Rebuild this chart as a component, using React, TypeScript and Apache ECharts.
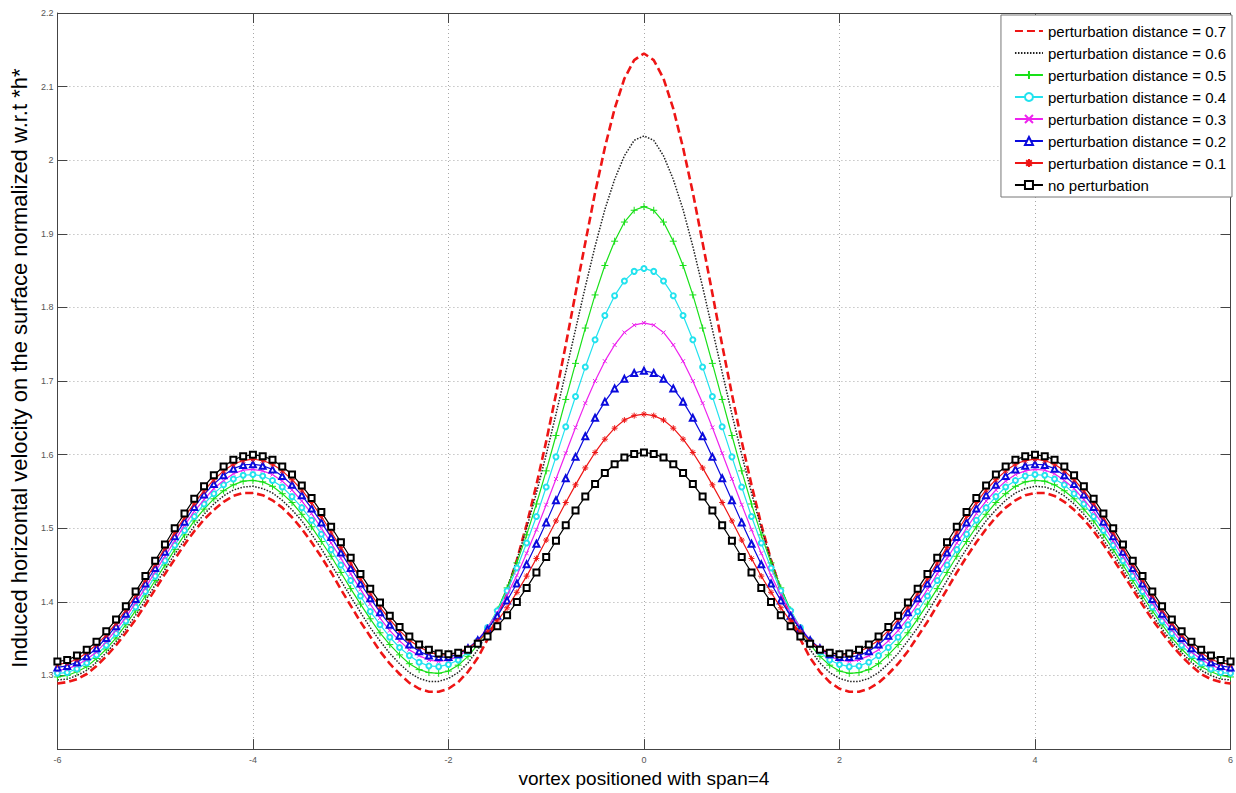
import React, { useEffect, useRef } from 'react';
import * as echarts from 'echarts';

// x positions of the samples (vortex positioned with span = 4)
const X_VALUES = [
  -6, -5.9, -5.8, -5.7, -5.6, -5.5, -5.4, -5.3, -5.2, -5.1,
  -5, -4.9, -4.8, -4.7, -4.6, -4.5, -4.4, -4.3, -4.2, -4.1,
  -4, -3.9, -3.8, -3.7, -3.6, -3.5, -3.4, -3.3, -3.2, -3.1,
  -3, -2.9, -2.8, -2.7, -2.6, -2.5, -2.4, -2.3, -2.2, -2.1,
  -2, -1.9, -1.8, -1.7, -1.6, -1.5, -1.4, -1.3, -1.2, -1.1,
  -1, -0.9, -0.8, -0.7, -0.6, -0.5, -0.4, -0.3, -0.2, -0.1,
  0, 0.1, 0.2, 0.3, 0.4, 0.5, 0.6, 0.7, 0.8, 0.9,
  1, 1.1, 1.2, 1.3, 1.4, 1.5, 1.6, 1.7, 1.8, 1.9,
  2, 2.1, 2.2, 2.3, 2.4, 2.5, 2.6, 2.7, 2.8, 2.9,
  3, 3.1, 3.2, 3.3, 3.4, 3.5, 3.6, 3.7, 3.8, 3.9,
  4, 4.1, 4.2, 4.3, 4.4, 4.5, 4.6, 4.7, 4.8, 4.9,
  5, 5.1, 5.2, 5.3, 5.4, 5.5, 5.6, 5.7, 5.8, 5.9,
  6,
];

const Y_P07 = [
  1.289, 1.291, 1.295, 1.302, 1.313, 1.326, 1.341, 1.358, 1.376, 1.396,
  1.417, 1.438, 1.458, 1.478, 1.496, 1.512, 1.525, 1.536, 1.544, 1.548,
  1.548, 1.545, 1.538, 1.528, 1.515, 1.499, 1.481, 1.461, 1.440, 1.417,
  1.395, 1.373, 1.353, 1.333, 1.316, 1.302, 1.290, 1.282, 1.278, 1.278,
  1.282, 1.291, 1.305, 1.324, 1.349, 1.379, 1.415, 1.457, 1.505, 1.559,
  1.618, 1.682, 1.749, 1.819, 1.888, 1.956, 2.017, 2.070, 2.111, 2.136,
  2.145, 2.136, 2.111, 2.070, 2.017, 1.956, 1.888, 1.819, 1.749, 1.682,
  1.618, 1.559, 1.505, 1.457, 1.415, 1.379, 1.349, 1.324, 1.305, 1.291,
  1.282, 1.278, 1.278, 1.282, 1.290, 1.302, 1.316, 1.333, 1.353, 1.373,
  1.395, 1.417, 1.440, 1.461, 1.481, 1.499, 1.515, 1.528, 1.538, 1.545,
  1.548, 1.548, 1.544, 1.536, 1.525, 1.512, 1.496, 1.478, 1.458, 1.438,
  1.417, 1.396, 1.376, 1.358, 1.341, 1.326, 1.313, 1.302, 1.295, 1.291,
  1.289,
];

const Y_P06 = [
  1.294, 1.295, 1.300, 1.307, 1.318, 1.331, 1.346, 1.363, 1.382, 1.402,
  1.423, 1.444, 1.465, 1.484, 1.503, 1.519, 1.533, 1.544, 1.552, 1.556,
  1.557, 1.554, 1.548, 1.538, 1.525, 1.510, 1.492, 1.472, 1.451, 1.429,
  1.407, 1.386, 1.365, 1.347, 1.330, 1.316, 1.304, 1.296, 1.292, 1.292,
  1.296, 1.304, 1.317, 1.335, 1.358, 1.386, 1.419, 1.457, 1.500, 1.548,
  1.600, 1.655, 1.712, 1.770, 1.828, 1.883, 1.933, 1.974, 2.006, 2.027,
  2.033, 2.027, 2.006, 1.974, 1.933, 1.883, 1.828, 1.770, 1.712, 1.655,
  1.600, 1.548, 1.500, 1.457, 1.419, 1.386, 1.358, 1.335, 1.317, 1.304,
  1.296, 1.292, 1.292, 1.296, 1.304, 1.316, 1.330, 1.347, 1.365, 1.386,
  1.407, 1.429, 1.451, 1.472, 1.492, 1.510, 1.525, 1.538, 1.548, 1.554,
  1.557, 1.556, 1.552, 1.544, 1.533, 1.519, 1.503, 1.484, 1.465, 1.444,
  1.423, 1.402, 1.382, 1.363, 1.346, 1.331, 1.318, 1.307, 1.300, 1.295,
  1.294,
];

const Y_P05 = [
  1.298, 1.300, 1.305, 1.312, 1.323, 1.336, 1.351, 1.369, 1.388, 1.408,
  1.429, 1.450, 1.471, 1.491, 1.510, 1.526, 1.540, 1.551, 1.559, 1.564,
  1.565, 1.563, 1.557, 1.547, 1.535, 1.519, 1.502, 1.482, 1.462, 1.440,
  1.418, 1.397, 1.377, 1.358, 1.342, 1.328, 1.316, 1.308, 1.304, 1.303,
  1.306, 1.314, 1.326, 1.342, 1.363, 1.389, 1.419, 1.453, 1.491, 1.533,
  1.578, 1.626, 1.675, 1.724, 1.772, 1.817, 1.857, 1.890, 1.916, 1.932,
  1.937, 1.932, 1.916, 1.890, 1.857, 1.817, 1.772, 1.724, 1.675, 1.626,
  1.578, 1.533, 1.491, 1.453, 1.419, 1.389, 1.363, 1.342, 1.326, 1.314,
  1.306, 1.303, 1.304, 1.308, 1.316, 1.328, 1.342, 1.358, 1.377, 1.397,
  1.418, 1.440, 1.462, 1.482, 1.502, 1.519, 1.535, 1.547, 1.557, 1.563,
  1.565, 1.564, 1.559, 1.551, 1.540, 1.526, 1.510, 1.491, 1.471, 1.450,
  1.429, 1.408, 1.388, 1.369, 1.351, 1.336, 1.323, 1.312, 1.305, 1.300,
  1.298,
];

const Y_P04 = [
  1.303, 1.304, 1.309, 1.317, 1.328, 1.341, 1.357, 1.374, 1.393, 1.414,
  1.435, 1.456, 1.477, 1.497, 1.516, 1.533, 1.547, 1.559, 1.567, 1.572,
  1.573, 1.571, 1.565, 1.556, 1.543, 1.528, 1.511, 1.492, 1.471, 1.450,
  1.429, 1.408, 1.387, 1.369, 1.352, 1.338, 1.327, 1.318, 1.313, 1.312,
  1.315, 1.321, 1.332, 1.347, 1.365, 1.388, 1.415, 1.446, 1.480, 1.516,
  1.556, 1.597, 1.638, 1.679, 1.719, 1.756, 1.789, 1.816, 1.836, 1.849,
  1.853, 1.849, 1.836, 1.816, 1.789, 1.756, 1.719, 1.679, 1.638, 1.597,
  1.556, 1.516, 1.480, 1.446, 1.415, 1.388, 1.365, 1.347, 1.332, 1.321,
  1.315, 1.312, 1.313, 1.318, 1.327, 1.338, 1.352, 1.369, 1.387, 1.408,
  1.429, 1.450, 1.471, 1.492, 1.511, 1.528, 1.543, 1.556, 1.565, 1.571,
  1.573, 1.572, 1.567, 1.559, 1.547, 1.533, 1.516, 1.497, 1.477, 1.456,
  1.435, 1.414, 1.393, 1.374, 1.357, 1.341, 1.328, 1.317, 1.309, 1.304,
  1.303,
];

const Y_P03 = [
  1.307, 1.309, 1.314, 1.322, 1.332, 1.346, 1.362, 1.379, 1.399, 1.419,
  1.441, 1.462, 1.483, 1.504, 1.523, 1.539, 1.554, 1.565, 1.574, 1.579,
  1.580, 1.578, 1.573, 1.564, 1.552, 1.537, 1.520, 1.500, 1.480, 1.459,
  1.438, 1.417, 1.397, 1.378, 1.361, 1.347, 1.335, 1.327, 1.321, 1.319,
  1.321, 1.326, 1.335, 1.348, 1.365, 1.385, 1.409, 1.436, 1.466, 1.498,
  1.532, 1.567, 1.602, 1.637, 1.670, 1.700, 1.727, 1.749, 1.766, 1.776,
  1.779, 1.776, 1.766, 1.749, 1.727, 1.700, 1.670, 1.637, 1.602, 1.567,
  1.532, 1.498, 1.466, 1.436, 1.409, 1.385, 1.365, 1.348, 1.335, 1.326,
  1.321, 1.319, 1.321, 1.327, 1.335, 1.347, 1.361, 1.378, 1.397, 1.417,
  1.438, 1.459, 1.480, 1.500, 1.520, 1.537, 1.552, 1.564, 1.573, 1.578,
  1.580, 1.579, 1.574, 1.565, 1.554, 1.539, 1.523, 1.504, 1.483, 1.462,
  1.441, 1.419, 1.399, 1.379, 1.362, 1.346, 1.332, 1.322, 1.314, 1.309,
  1.307,
];

const Y_P02 = [
  1.311, 1.313, 1.318, 1.326, 1.337, 1.351, 1.367, 1.384, 1.404, 1.425,
  1.446, 1.468, 1.489, 1.509, 1.529, 1.546, 1.560, 1.572, 1.581, 1.586,
  1.587, 1.585, 1.580, 1.571, 1.559, 1.545, 1.527, 1.508, 1.488, 1.467,
  1.446, 1.425, 1.405, 1.386, 1.369, 1.354, 1.342, 1.333, 1.327, 1.325,
  1.325, 1.329, 1.337, 1.348, 1.363, 1.381, 1.402, 1.425, 1.451, 1.479,
  1.508, 1.538, 1.568, 1.597, 1.625, 1.650, 1.672, 1.690, 1.703, 1.711,
  1.714, 1.711, 1.703, 1.690, 1.672, 1.650, 1.625, 1.597, 1.568, 1.538,
  1.508, 1.479, 1.451, 1.425, 1.402, 1.381, 1.363, 1.348, 1.337, 1.329,
  1.325, 1.325, 1.327, 1.333, 1.342, 1.354, 1.369, 1.386, 1.405, 1.425,
  1.446, 1.467, 1.488, 1.508, 1.527, 1.545, 1.559, 1.571, 1.580, 1.585,
  1.587, 1.586, 1.581, 1.572, 1.560, 1.546, 1.529, 1.509, 1.489, 1.468,
  1.446, 1.425, 1.404, 1.384, 1.367, 1.351, 1.337, 1.326, 1.318, 1.313,
  1.311,
];

const Y_P01 = [
  1.315, 1.317, 1.322, 1.331, 1.342, 1.355, 1.371, 1.389, 1.409, 1.430,
  1.451, 1.473, 1.494, 1.515, 1.534, 1.551, 1.566, 1.578, 1.587, 1.592,
  1.594, 1.592, 1.587, 1.578, 1.566, 1.552, 1.535, 1.516, 1.495, 1.474,
  1.453, 1.432, 1.412, 1.393, 1.376, 1.361, 1.348, 1.339, 1.332, 1.328,
  1.328, 1.331, 1.337, 1.346, 1.359, 1.374, 1.392, 1.413, 1.435, 1.459,
  1.484, 1.510, 1.535, 1.559, 1.582, 1.603, 1.621, 1.636, 1.647, 1.653,
  1.655, 1.653, 1.647, 1.636, 1.621, 1.603, 1.582, 1.559, 1.535, 1.510,
  1.484, 1.459, 1.435, 1.413, 1.392, 1.374, 1.359, 1.346, 1.337, 1.331,
  1.328, 1.328, 1.332, 1.339, 1.348, 1.361, 1.376, 1.393, 1.412, 1.432,
  1.453, 1.474, 1.495, 1.516, 1.535, 1.552, 1.566, 1.578, 1.587, 1.592,
  1.594, 1.592, 1.587, 1.578, 1.566, 1.551, 1.534, 1.515, 1.494, 1.473,
  1.451, 1.430, 1.409, 1.389, 1.371, 1.355, 1.342, 1.331, 1.322, 1.317,
  1.315,
];

const Y_NONE = [
  1.319, 1.321, 1.327, 1.335, 1.346, 1.360, 1.376, 1.394, 1.414, 1.435,
  1.456, 1.478, 1.500, 1.520, 1.540, 1.557, 1.572, 1.584, 1.593, 1.598,
  1.600, 1.598, 1.593, 1.584, 1.573, 1.558, 1.541, 1.522, 1.502, 1.481,
  1.460, 1.438, 1.418, 1.399, 1.381, 1.366, 1.353, 1.342, 1.335, 1.330,
  1.329, 1.331, 1.335, 1.343, 1.353, 1.367, 1.382, 1.400, 1.419, 1.440,
  1.461, 1.483, 1.504, 1.524, 1.543, 1.560, 1.575, 1.587, 1.596, 1.601,
  1.603, 1.601, 1.596, 1.587, 1.575, 1.560, 1.543, 1.524, 1.504, 1.483,
  1.461, 1.440, 1.419, 1.400, 1.382, 1.367, 1.353, 1.343, 1.335, 1.331,
  1.329, 1.330, 1.335, 1.342, 1.353, 1.366, 1.381, 1.399, 1.418, 1.438,
  1.460, 1.481, 1.502, 1.522, 1.541, 1.558, 1.573, 1.584, 1.593, 1.598,
  1.600, 1.598, 1.593, 1.584, 1.572, 1.557, 1.540, 1.520, 1.500, 1.478,
  1.456, 1.435, 1.414, 1.394, 1.376, 1.360, 1.346, 1.335, 1.327, 1.321,
  1.319,
];

const SERIES_NAMES = [
  'perturbation distance = 0.7',
  'perturbation distance = 0.6',
  'perturbation distance = 0.5',
  'perturbation distance = 0.4',
  'perturbation distance = 0.3',
  'perturbation distance = 0.2',
  'perturbation distance = 0.1',
  'no perturbation',
];

const X_MIN = -6;
const X_MAX = 6;
const X_STEP = 2;
const Y_MIN = 1.2;
const Y_MAX = 2.2;
const Y_STEP = 0.1;

const X_TITLE = 'vortex positioned with span=4';
const Y_TITLE = 'Induced horizontal velocity on the surface normalized w.r.t *h*';

const FONT = 'Arial, "Liberation Sans", sans-serif';

export default function App() {
  const ref = useRef<HTMLDivElement>(null);

  useEffect(() => {
    if (!ref.current) return;
    const chart = echarts.init(ref.current, null, { renderer: 'svg' });
    const pair = (ys: number[]) => X_VALUES.map((x, i) => [x, ys[i]]);

    const PLUS = 'path://M0,5L10,5M5,0L5,10';
    const CROSS = 'path://M1,1L9,9M9,1L1,9';
    const STAR = 'path://M5,0L5,10M0,5L10,5M1.5,1.5L8.5,8.5M8.5,1.5L1.5,8.5';

    const axisLineStyle = { color: '#444', width: 1 };
    const gridLine = { show: true, lineStyle: { color: '#a8a8a8', type: [1, 3], width: 1 } };

    const yLabel = (v: number) => {
      const r = Math.round(v * 10) / 10;
      if (Math.abs(r - Y_MIN) < 1e-6) return '';
      return String(r);
    };

    const mk = (
      name: string,
      ys: number[],
      color: string,
      symbol: string,
      symbolSize: number,
      lineStyle: any,
      z: number
    ) => ({
      name,
      type: 'line',
      data: pair(ys),
      symbol,
      symbolSize,
      showSymbol: symbol !== 'none',
      showAllSymbol: true,
      z,
      lineStyle: { color, width: 1, ...lineStyle },
      itemStyle: { color, borderColor: color, borderWidth: 1 },
      emphasis: { disabled: true },
    });

    const legendData = SERIES_NAMES.map((name, i) =>
      i < 2 ? { name, itemStyle: { opacity: 0 } } : { name }
    );

    chart.setOption({
      animation: false,
      backgroundColor: '#fff',
      grid: { left: 49, right: 2, top: 13, bottom: 40, containLabel: false },
      textStyle: { fontFamily: FONT },
      legend: {
        data: legendData,
        orient: 'vertical',
        right: 4,
        top: 15,
        padding: [8, 6, 4, 13],
        itemGap: 6,
        itemWidth: 28,
        itemHeight: 10,
        backgroundColor: '#fff',
        borderColor: '#777',
        borderWidth: 1,
        selectedMode: false,
        textStyle: { fontSize: 15, color: '#000', fontFamily: FONT, lineHeight: 16 },
      },
      xAxis: [
        {
          type: 'value',
          min: X_MIN,
          max: X_MAX,
          interval: X_STEP,
          position: 'bottom',
          axisLine: { show: true, onZero: false, lineStyle: axisLineStyle },
          axisTick: { show: true, inside: true, length: 10, lineStyle: axisLineStyle },
          axisLabel: { color: '#555', fontSize: 9, margin: 6, fontFamily: FONT },
          splitLine: gridLine,
          name: X_TITLE,
          nameLocation: 'middle',
          nameGap: 11,
          nameTextStyle: { fontSize: 19, color: '#000', fontFamily: FONT },
        },
        {
          type: 'value',
          min: X_MIN,
          max: X_MAX,
          interval: X_STEP,
          position: 'top',
          axisLine: { show: true, onZero: false, lineStyle: axisLineStyle },
          axisTick: { show: true, inside: true, length: 10, lineStyle: axisLineStyle },
          axisLabel: { show: false },
          splitLine: { show: false },
        },
      ],
      yAxis: [
        {
          type: 'value',
          min: Y_MIN,
          max: Y_MAX,
          interval: Y_STEP,
          position: 'left',
          axisLine: { show: true, onZero: false, lineStyle: axisLineStyle },
          axisTick: { show: true, inside: true, length: 10, lineStyle: axisLineStyle },
          axisLabel: { color: '#555', fontSize: 9, margin: 4, fontFamily: FONT, formatter: yLabel },
          splitLine: gridLine,
          name: Y_TITLE,
          nameLocation: 'middle',
          nameRotate: 90,
          nameGap: 16,
          nameTextStyle: { fontSize: 22, color: '#000', fontFamily: FONT, padding: [0, 0, 0, 26] },
        },
        {
          type: 'value',
          min: Y_MIN,
          max: Y_MAX,
          interval: Y_STEP,
          position: 'right',
          axisLine: { show: true, onZero: false, lineStyle: axisLineStyle },
          axisTick: { show: true, inside: true, length: 10, lineStyle: axisLineStyle },
          axisLabel: { show: false },
          splitLine: { show: false },
        },
      ],
      series: [
        mk(SERIES_NAMES[0], Y_P07, '#ee1515', 'none', 0, { width: 2.6, type: [8, 4] }, 10),
        mk(SERIES_NAMES[1], Y_P06, '#222222', 'none', 0, { width: 1.5, type: [1.5, 1.5] }, 11),
        mk(SERIES_NAMES[2], Y_P05, '#18e018', PLUS, 7, { width: 1.2 }, 12),
        mk(SERIES_NAMES[3], Y_P04, '#22e2ee', 'emptyCircle', 5, { width: 1.2 }, 13),
        mk(SERIES_NAMES[4], Y_P03, '#ee22ee', CROSS, 4, { width: 1.2 }, 14),
        mk(SERIES_NAMES[5], Y_P02, '#0a0add', 'emptyTriangle', 6, { width: 1.2 }, 15),
        mk(SERIES_NAMES[6], Y_P01, '#ee1515', STAR, 6, { width: 1.2 }, 16),
        mk(SERIES_NAMES[7], Y_NONE, '#000000', 'emptyRect', 6, { width: 1.2 }, 17),
      ],
    });

    return () => chart.dispose();
  }, []);

  return (
    <div
      ref={ref}
      style={{ position: 'fixed', left: 0, top: 0, width: 1236, height: 793, background: '#fff' }}
    />
  );
}
